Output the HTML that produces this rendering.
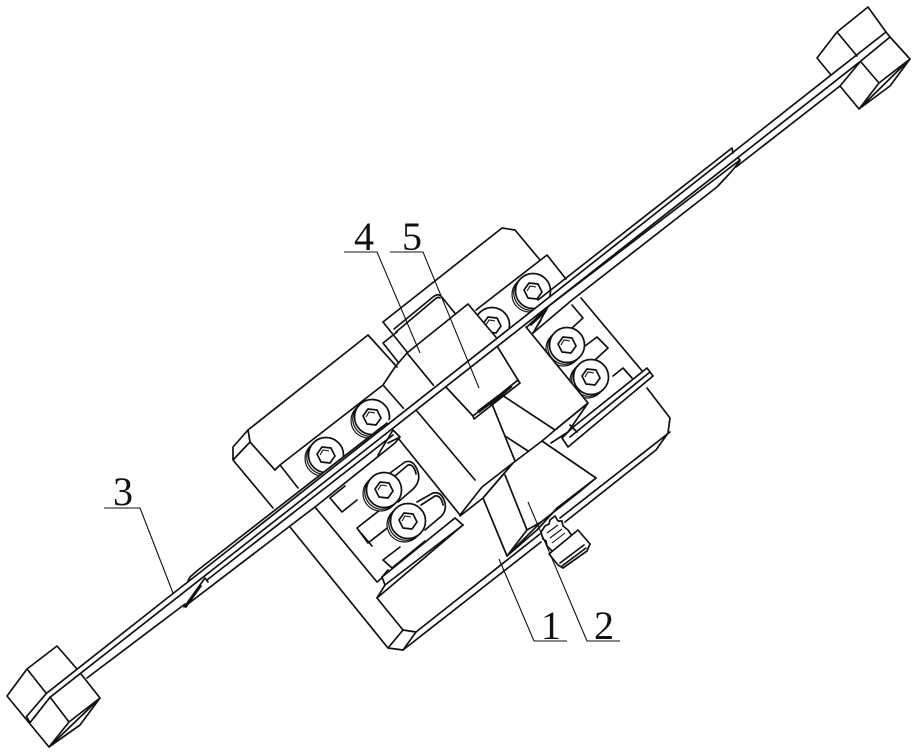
<!DOCTYPE html>
<html><head><meta charset="utf-8"><style>
html,body{margin:0;padding:0;background:#fff;width:917px;height:755px;overflow:hidden}
svg{display:block}
text{font-family:"Liberation Serif",serif;font-size:40px;fill:#111}
.l{fill:none;stroke:#111;stroke-width:1.7;stroke-linejoin:round;stroke-linecap:round}
.w{fill:#fff;stroke:#111;stroke-width:1.7;stroke-linejoin:round}
.t{fill:none;stroke:#111;stroke-width:1.1}
</style></head><body>
<svg width="917" height="755" viewBox="0 0 917 755" xmlns="http://www.w3.org/2000/svg">
<defs>
<g id="s">
<circle cx="-3.5" cy="3.5" r="17.5" fill="#fff" stroke="#111" stroke-width="1.2"/>
<circle cx="-1.8" cy="1.8" r="17.5" fill="#fff" stroke="#111" stroke-width="1.2"/>
<circle class="w" r="17.5"/>
<path class="w" d="M-9,-1 L-4,-8 L5,-7 L9,1 L4,8 L-5,7 Z"/>
<path class="t" d="M-6,0 L-3,-5 L3,-4"/>
</g>
</defs>

<!-- main body -->
<path class="l" d="M248,430 L368,335 M383,322 L502,228 L515,230 L540,260"/>
<path class="l" d="M248,430 L233,447 L233,460 L273,508 M248,430 L250,442 L275,470 M233,460 L250,442"/>
<path class="l" d="M290,527 L388,648 L403,650 L416,632 M388,648 L403,630 L416,632"/>
<path class="l" d="M581,298 L643,372 M647,388 L670,418 L668,433 L656,450 L565,522 M670,432 L560,518"/>
<path class="l" d="M403,650 L541,542 M416,632 L540,534"/>
<path class="l" d="M377,598 L403,630 M377,598 L463,525"/>

<!-- upper left plate -->
<path class="l" d="M275,470 L280,465 L383,385 M280,465 L298,488"/>
<path class="l" d="M383,385 L395,367 L407,353 M383,385 L405,410"/>
<path class="l" d="M368,335 L397,367 M383,322 L407,352"/>
<path class="l" d="M383,343 L397,332 M383,343 L398,362"/>
<path class="l" d="M394,329 L433,297 Q438,293 441,296 L462,322 M396,332 L434,300 Q438,296 440,298"/>
<path class="l" d="M411,404 L475,480 M398,438 L460,515 M407,353 L460,313"/>

<!-- upper right plate -->
<path class="l" d="M476,310 L547,255 L566,279"/>

<!-- lower plate -->
<path class="l" d="M315,507 L377,582 L410,555 M377,582 L455,518"/>
<path class="l" d="M330,498 L342,512 L357,500 M330,498 L345,486"/>
<path class="l" d="M357,528 L368,543 L395,522 M357,528 L385,506 M361,533 L372,546"/>
<path class="l" d="M390,473 L405,462 Q414,459 418,472 Q421,482 412,490 L398,502"/>
<path class="l" d="M395,476 L408,465 Q414,464 416,474"/>
<path class="l" d="M417,502 L433,493 Q442,491 445,503 Q447,513 438,519 L425,530"/>
<path class="l" d="M421,505 L435,496 Q441,495 443,505"/>
<path class="l" d="M383,560 L392,568 L425,541 M383,560 L400,547"/>
<path class="w" d="M382,577 L455,518 L463,525 L385,585 Z"/>
<path class="l" d="M382,577 L388,570 M385,585 L377,598"/>

<!-- right side small tabs -->
<path class="l" d="M572,305 L583,318 L572,328"/>
<path class="l" d="M585,346 L597,337 L608,348 L595,360"/>
<path class="l" d="M613,376 L623,368 L632,378"/>

<!-- screws -->
<use href="#s" x="372" y="417"/>
<use href="#s" x="326" y="455"/>
<use href="#s" x="533" y="291"/>
<use href="#s" x="492" y="325"/>
<use href="#s" x="567" y="345"/>
<use href="#s" x="591" y="377"/>
<use href="#s" x="384" y="490"/>
<use href="#s" x="408" y="521"/>

<!-- center right block -->
<path class="w" style="stroke:none" d="M526,327 L588,403 L555,430 L502,395 L480,375 Z"/>
<path class="l" d="M526,327 L588,403 L555,430 L502,395"/>
<!-- long right bar -->
<path class="w" d="M647,368 L653,376 L568,447 L562,438 L572,428 Z"/>
<path class="l" d="M650,372 L570,437 M570,425 L577,432"/>
<path class="l" d="M588,403 L555,430 L542,441 M588,403 L568,432 L551,443"/>
<path class="l" d="M492,404 L515,461 M505,436 L528,451"/>

<!-- block 4 (upper) and block 5 (lower), offset behind the strip -->
<path class="w" d="M407,353 L468,304 L500,342 L439,392 Z"/>
<path class="w" d="M445,386 L497,346 L518,380 L473,416 Z"/>
<path class="l" d="M518,380 L520,383 L474,419 L473,416"/>
<path d="M478,412 L499,396" stroke="#111" stroke-width="3.2" fill="none"/>
<path d="M490,405 L512,386" stroke="#111" stroke-width="2.2" fill="none"/>

<!-- wedge (part 2) -->
<path class="w" d="M542,441 L596,478 L578,493 L541,522 L507,556 L483,498 L513,463 Z"/>
<path class="l" d="M460,515 L482,487 L513,463 M460,516 L483,498 L513,463"/>
<path class="l" d="M505,475 L527,530 M507,556 L527,530 L541,522 M507,556 L537,530 L557,508 L596,478"/>

<!-- bolt -->
<path class="w" d="M541,532 L545,526 L549,524 L550,520 L555,516 L558,521 L562,521 L563,526 L568,530 L572,536 L553,552 L547,546 L546,541 L543,539 Z"/>
<path class="w" d="M578,530 L590,544 L587,551 L563,568 L558,565 L549,554 Z"/>
<path class="l" d="M584,545 L560,563 M586,548 L562,566"/>
<path class="t" d="M547,533 L558,525 M550,538 L562,529 M552,543 L565,533"/>

<!-- strip: erase underneath -->
<path d="M197,571 L388,421 L526,315 L732,148 L886,32 L890,37 L860,62 L840,86 L717,187 L533,333 L527,322 L400,424 L395,442 L184,607 L183,605 L87,678 L50,697 L30,723 L27,717 L46,693 Z" fill="#fff"/>
<!-- main strip lines -->
<path class="l" d="M26.5,716.5 L46.5,693.3 L173,593.5 L198,574 L830.7,75.3 L886,32 L890,37 L860,61.7 L50,697.3 L30,722.7 L26.5,716.5"/>
<path class="l" d="M87,678 L185,604 M840,86 L860,62 M840,86 L736,167"/>
<!-- clamp left -->
<path class="l" d="M190,577 L198,570 L387,423 M188,581 L190,577"/>
<path class="l" d="M207,580 L393,435 M185,606 L205,578 L208,582 M186,607 L201,586"/>
<path class="l" d="M184,607 L290,526 L315,507 L395,443 L400,437 L393,430 L378,455 M388,443 L400,437"/>
<!-- clamp right -->
<path class="l" d="M538,300 L732,148 L733,153"/>
<path class="l" d="M541,312 L740,160 L738,158 M740,161 L731,172 L717,187 L572,300 L533,333"/>
<path class="l" d="M527,327 L548,307 L533,333 M531,325 L546,311 M533,333 L541,320"/>

<!-- left cube -->
<path class="l" d="M77,669 L57,646 L27,669 L7,696 L49,747 L100,698 L81,674 M27,669 L46,693 M50,697 L69,722 L49,747 M69,722 L100,698 L80,725 L49,747"/>
<!-- right cube -->
<path class="l" d="M831,75 L817,58 L837,32 L868,7 L886,32 M890,37 L910,59 L859,109 L840,86 M837,32 L857,56 M861,62 L879,83 L910,59 L890,86 L859,109 L879,83"/>

<!-- leaders -->
<path class="t" d="M344,252 L377,252 L420,353"/>
<path class="t" d="M390,252 L423,252 L479,388"/>
<path class="t" d="M104,508 L140,508 L173,593"/>
<path class="t" d="M567,641 L534,641 L499,559"/>
<path class="t" d="M620,641 L587,641 L528,502"/>

<text x="354" y="250">4</text>
<text x="402" y="250">5</text>
<text x="113" y="505">3</text>
<text x="541" y="639">1</text>
<text x="594" y="639">2</text>
</svg>
</body></html>
